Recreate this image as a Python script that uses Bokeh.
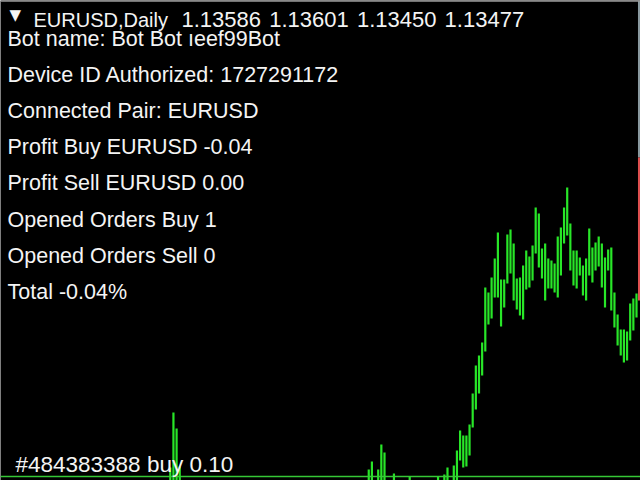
from bokeh.plotting import figure
from bokeh.models import Label, Span, Range1d
from bokeh.embed import file_html
from bokeh.resources import INLINE

# bars counted back from the last (current) bar; high/low in chart points above the bottom edge
bar_back = [148, 147, 146, 145,
            85, 84, 82, 81, 80, 77, 72, 63, 61, 60, 58, 57, 56, 55, 54, 53, 52,
            51, 50, 49, 48, 47, 46, 45, 44, 43, 42, 41, 40, 39, 38, 37, 36, 35, 34, 33, 32, 31,
            30, 29, 28, 27, 26, 25, 24, 23, 22, 21, 20, 19, 18, 17, 16, 15, 14, 13, 12, 11, 10,
            9, 8, 7, 6, 5, 4, 3, 2, 1, 0]
bar_high = [13, 68, 52, 14,
            11, 19, 11, 36, 28, 7, 4, 4, 6, 13, 15, 30, 50, 45, 45, 56, 87,
            115, 125, 138, 193, 188, 203, 222, 248, 201, 201, 246, 251, 237, 202, 203, 215, 230, 224, 235, 273, 267,
            232, 237, 222, 220, 217, 244, 253, 273, 293, 257, 230, 230, 223, 215, 222, 252, 233, 238, 244, 237, 223,
            231, 233, 188, 166, 151, 151, 149, 177, 182, 187]
bar_low = [-15, -15, -15, -15,
           -15, -15, -15, -15, -15, -15, -15, -15, -15, -15, -15, -5, 20, 13, 14, 25, 53,
           71, 87, 105, 129, 156, 162, 183, 183, 154, 173, 197, 207, 180, 171, 165, 161, 191, 193, 200, 227, 213,
           202, 180, 192, 192, 188, 183, 205, 237, 245, 210, 195, 192, 205, 185, 180, 205, 198, 210, 214, 193, 173,
           210, 170, 153, 135, 125, 118, 120, 140, 150, 163]

order_level = 4
header_name = "EURUSD,Daily"
header_prices = ["1.13586", "1.13601", "1.13450", "1.13477"]
info_lines = [
    "Bot name: Bot Bot \u0131eef99Bot",
    "Device ID Authorized: 1727291172",
    "Connected Pair: EURUSD",
    "Profit Buy EURUSD -0.04",
    "Profit Sell EURUSD 0.00",
    "Opened Orders Buy 1",
    "Opened Orders Sell 0",
    "Total -0.04%",
]
order_text = "#484383388 buy 0.10"

W, H = 640, 480
FONT = "Liberation Sans"

x = [-b for b in bar_back]

p = figure(width=W, height=H, output_backend="svg", toolbar_location=None,
           x_range=Range1d(-201.9, 1.27), y_range=Range1d(0, 480),
           x_axis_location=None, y_axis_location=None, min_border=0,
           background_fill_color="black", border_fill_color="black")
p.grid.visible = False
p.outline_line_color = None

# high-low bars
p.segment(x0=x, y0=bar_low, x1=x, y1=bar_high, line_color="#28e628", line_width=2.2)

# order line
p.add_layout(Span(location=order_level, dimension="width", line_color="#36c836", line_width=1.5))
# window edges
p.add_layout(Span(location=479.5, dimension="width", line_color="#9a9a9a", line_width=1.5))
p.segment(x0=[0.79, 0.79], y0=[323, 180], x1=[0.79, 0.79], y1=[480, 323],
          line_color=["#8a9aa0", "#e05050"], line_width=2)


def put(text, sx, baseline, size, font=FONT):
    p.add_layout(Label(x=sx, y=H - baseline, x_units="screen", y_units="screen",
                       text=text, text_color="#f4f4f4", text_font=font,
                       text_font_size=size, text_baseline="alphabetic"))


put("\u25bc", 9, 14, "15px", "DejaVu Sans")
put(header_name, 33, 19, "20px")
for i, price in enumerate(header_prices):
    put(price, 181 + 87.7 * i, 19, "22px")
for i, line in enumerate(info_lines):
    put(line, 7, 38 + 36.2 * i, "21.5px")
put(order_text, 15, 463.5, "22.5px")

open("out.html", "w").write(file_html(p, INLINE))
